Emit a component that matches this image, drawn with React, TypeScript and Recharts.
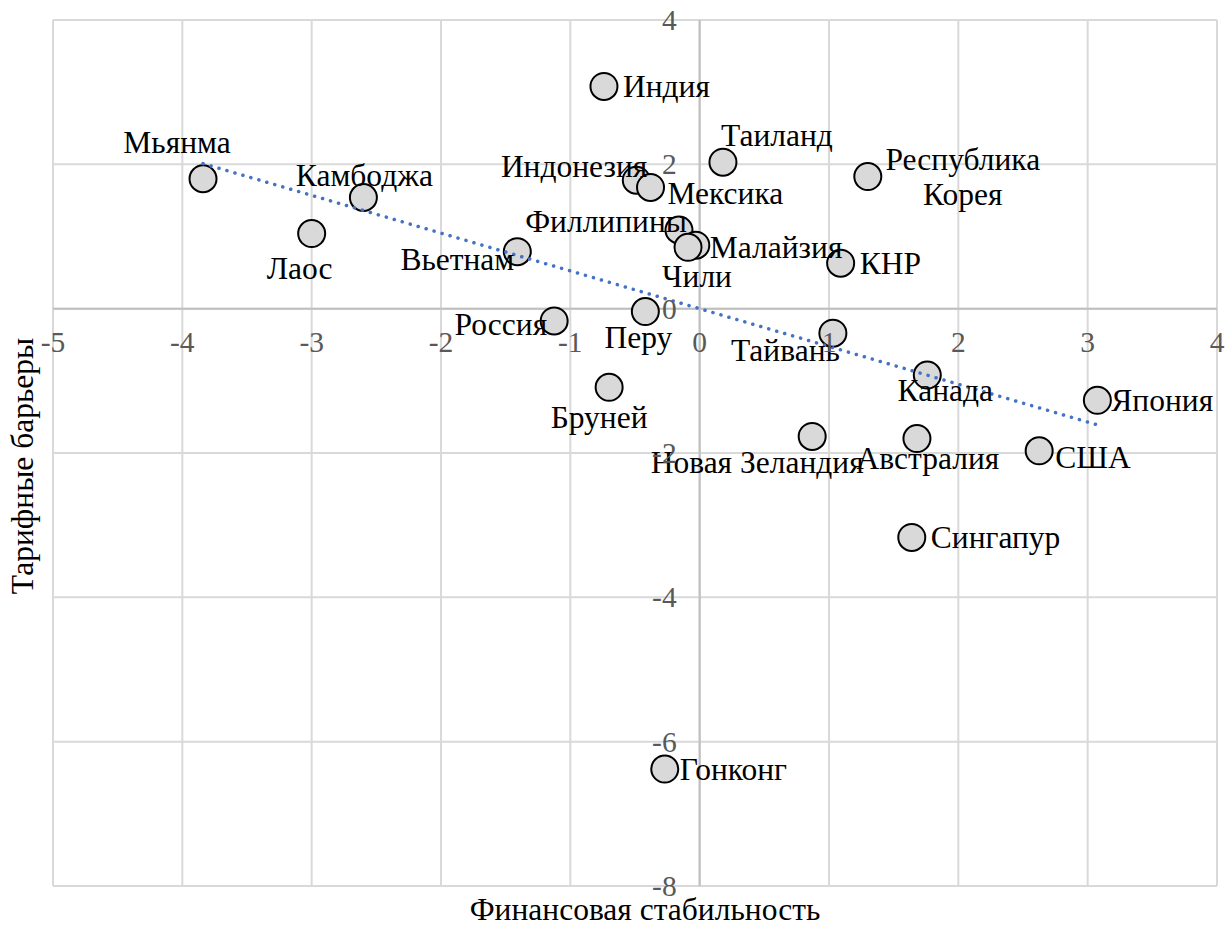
import { ScatterChart, Scatter, XAxis, YAxis, CartesianGrid, ReferenceLine } from "recharts";

// values
const countries = [
  "Мьянма", "Камбоджа", "Лаос", "Вьетнам", "Россия", "Бруней", "Перу", "Индия",
  "Индонезия", "Мексика", "Филлипины", "Малайзия", "Чили", "Гонконг", "Таиланд",
  "Республика Корея", "КНР", "Тайвань", "Новая Зеландия", "Канада", "Австралия",
  "Сингапур", "США", "Япония",
];
const finStability = [
  -3.84, -2.6, -3.0, -1.41, -1.125, -0.7, -0.42, -0.74,
  -0.49, -0.38, -0.16, -0.03, -0.09, -0.27, 0.18,
  1.3, 1.09, 1.03, 0.87, 1.76, 1.68,
  1.64, 2.625, 3.075,
];
const tariffBarriers = [
  1.8, 1.54, 1.04, 0.79, -0.17, -1.09, -0.04, 3.08,
  1.78, 1.68, 1.09, 0.88, 0.85, -6.38, 2.03,
  1.83, 0.63, -0.34, -1.77, -0.92, -1.8,
  -3.17, -1.97, -1.27,
];
// linear trend, end points
const trendX = [-3.84, 3.075];
const trendY = [2.01, -1.61];

const xTicks = [-5, -4, -3, -2, -1, 0, 1, 2, 3, 4];
const yTicks = [-8, -6, -4, -2, 0, 2, 4];

const data = countries.map((name, i) => ({ name, x: finStability[i], y: tariffBarriers[i] }));
const trend = trendX.map((x, i) => ({ x, y: trendY[i] }));

// label placement: anchor, dx, dy (baseline) relative to marker centre
const labelPos: Record<string, [string, number, number, boolean?]> = {
  "Мьянма": ["middle", -26, -26],
  "Камбоджа": ["middle", 1, -12],
  "Лаос": ["middle", -12, 45],
  "Вьетнам": ["end", -3, 18],
  "Россия": ["end", -7, 14],
  "Бруней": ["middle", -10, 41],
  "Перу": ["middle", -7, 36],
  "Индия": ["start", 19, 11],
  "Индонезия": ["end", 11, -3],
  "Мексика": ["start", 17, 17],
  "Филлипины": ["end", 8, 2],
  "Малайзия": ["start", 14, 13],
  "Чили": ["middle", 9, 40],
  "Гонконг": ["start", 15, 11],
  "Таиланд": ["start", -2, -16],
  "Республика Корея": ["middle", 95, -7, true],
  "КНР": ["start", 19, 11],
  "Тайвань": ["end", 7, 28],
  "Новая Зеландия": ["middle", -55, 37],
  "Канада": ["middle", 18, 26],
  "Австралия": ["middle", 11, 30],
  "Сингапур": ["start", 19, 11],
  "США": ["start", 16, 17],
  "Япония": ["start", 14, 11],
};

const W = 1230;
const H = 928;
// axes take 1px each (a zero-sized axis is not drawn)
const margin = { top: 20, right: 13, bottom: 41, left: 52 };
const plotL = 53;
const plotW = 1164;
const plotH = 866;
const ZERO_X = plotL + (5 / 9) * plotW;
const ZERO_Y = margin.top + (4 / 12) * plotH;

const font = '"Liberation Serif", "DejaVu Serif", serif';
const labelSize = 31.5;
const tickSize = 29.5;

const XTick = (props: any) => (
  <text x={props.x} y={ZERO_Y + 43} textAnchor="middle" style={{ fontFamily: font }} fontSize={tickSize} fill="#595959">
    {props.payload.value}
  </text>
);

const YTick = (props: any) => (
  <text x={ZERO_X - 23} y={props.y + 10} textAnchor="end" style={{ fontFamily: font }} fontSize={tickSize} fill="#595959">
    {props.payload.value}
  </text>
);

const Marker = (p: any) => (
  <circle cx={p.cx} cy={p.cy} r={13.5} fill="#d9d9d9" stroke="#000" strokeWidth={2} />
);

const PointLabel = (p: any) => {
  const name: string = p.payload.name;
  const [anchor, dx, dy, wrap] = labelPos[name] || ["start", 16, 11];
  const lines = wrap ? name.split(" ") : [name];
  return (
    <text
      x={p.cx + dx}
      y={p.cy + dy}
      textAnchor={anchor as any}
      style={{ fontFamily: font }}
      fontSize={labelSize}
      fill="#000"
    >
      {lines.map((l, i) => (
        <tspan key={i} x={p.cx + dx} dy={i === 0 ? 0 : 35}>
          {l}
        </tspan>
      ))}
    </text>
  );
};

export default function App() {
  return (
    <div style={{ position: "absolute", left: 0, top: 0, width: W, height: H, background: "#fff", fontFamily: font }}>
      <ScatterChart width={W} height={H} margin={margin}>
        <CartesianGrid stroke="#d9d9d9" strokeWidth={2} />
        <XAxis
          type="number"
          dataKey="x"
          domain={[-5, 4]}
          ticks={xTicks}
          interval={0}
          height={1}
          axisLine={false}
          tickLine={false}
          tick={<XTick />}
        />
        <YAxis
          type="number"
          dataKey="y"
          domain={[-8, 4]}
          ticks={yTicks}
          interval={0}
          width={1}
          axisLine={false}
          tickLine={false}
          tick={<YTick />}
        />
        <ReferenceLine x={0} stroke="#bfbfbf" strokeWidth={2} />
        <ReferenceLine y={0} stroke="#bfbfbf" strokeWidth={2} />
        <Scatter data={data} shape={<Marker />} isAnimationActive={false} />
        <Scatter
          data={trend}
          shape={() => <g />}
          line={{ stroke: "#4472c4", strokeWidth: 3.5, strokeDasharray: "0.1 8.2", strokeLinecap: "round" }}
          isAnimationActive={false}
        />
        <Scatter data={data} shape={<PointLabel />} isAnimationActive={false} />
      </ScatterChart>
      <svg width={W} height={H} style={{ position: "absolute", left: 0, top: 0, pointerEvents: "none" }}>
        <text x={645} y={920} textAnchor="middle" style={{ fontFamily: font }} fontSize={labelSize} fill="#000">
          Финансовая стабильность
        </text>
        <text
          x={33}
          y={466}
          textAnchor="middle"
          transform="rotate(-90 33 466)"
          style={{ fontFamily: font }}
          fontSize={labelSize}
          fill="#000"
        >
          Тарифные барьеры
        </text>
      </svg>
    </div>
  );
}
